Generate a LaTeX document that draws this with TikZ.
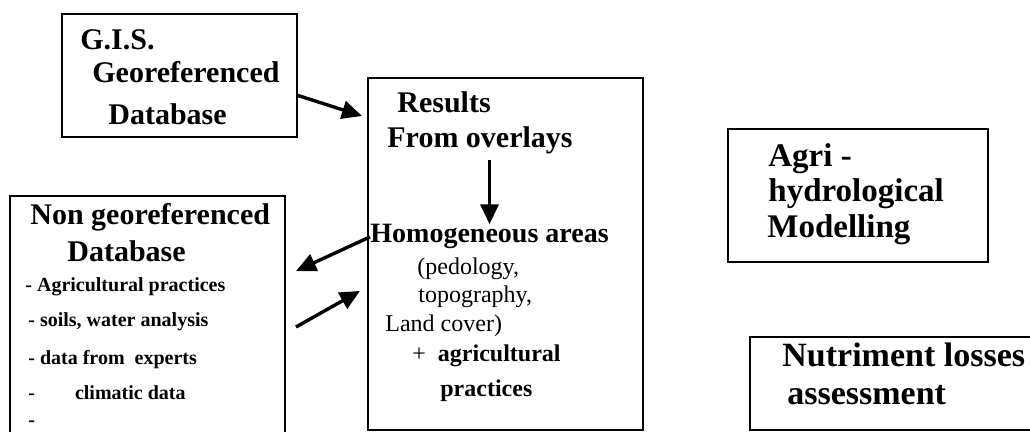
\documentclass[tikz,border=0pt]{standalone}
\usepackage{fontspec}
\setmainfont{Liberation Serif}
\usepackage{tikz}
\usetikzlibrary{arrows.meta}

\begin{document}
\begin{tikzpicture}[x=0.5pt,y=-0.5pt,inner sep=0pt,
  box/.style={draw=black,line width=1pt,rectangle},
  big/.style={font=\fontsize{#1}{#1}\selectfont\bfseries,anchor=base west},
  big/.default=15,
  item/.style={font=\fontsize{10}{12}\selectfont\bfseries,anchor=base west},
  plain/.style={font=\fontsize{12}{14}\selectfont,anchor=base west},
  flow/.style={-{Triangle[length=10pt,width=9pt]},line width=1.7pt}]
\useasboundingbox (0,0) rectangle (1030,432);

% boxes
\node[box,minimum width=117.5pt,minimum height=61.5pt] (gis) at (179.5,75.5) {};
\node[box,minimum width=137.5pt,minimum height=176pt] (res) at (505.5,254) {};
\node[box,minimum width=137.5pt,minimum height=132pt] (ngr) at (147.5,328) {};
\node[box,minimum width=130pt,minimum height=66.5pt] (agri) at (858,195.5) {};
\node[box,minimum width=145pt,minimum height=46.5pt] (nut) at (895,383.5) {};

% G.I.S.
\node[big] (gisA) at (80,50) {G.I.S.};
\node[big] (gisB) at (92,83) {Georeferenced};
\node[big] (gisC) at (108,125) {Database};

% results
\node[big] (resA) at (397,113) {Results};
\node[big] (ovl) at (387,148) {From overlays};
\node[big=14] (homog) at (370,243) {Homogeneous areas};
\node[plain] (ped) at (417,275) {(pedology,};
\node[plain] (topo) at (418,303) {topography,};
\node[plain] (land) at (385,332) {Land cover)};
\node[plain] (agr) at (412,362) {+\hspace{0.5em}\textbf{agricultural}};
\node[plain] (prac) at (440,397) {\textbf{practices}};

% non georeferenced
\node[big] (ngrA) at (30,225) {Non georeferenced};
\node[big] (ngrB) at (67,262) {Database};
\node[item] (it1) at (25,292) {- Agricultural practices};
\node[item] (it2) at (28,327) {- soils, water analysis};
\node[item] (it3) at (28,365) {- data from\ \ experts};
\node[item] (it4) at (28,400) {-\hspace{20pt}climatic data};
\node[item] (it5) at (28,427) {-};

% modelling
\node[big=16.5] (agA) at (768,167) {Agri -};
\node[big=16.5] (agB) at (768,202) {hydrological};
\node[big=16.5] (agC) at (767,238) {Modelling};

\node[big=17] (nutA) at (782,367) {Nutriment losses};
\node[big=17] (nutB) at (787,405) {assessment};

\path ([shift={(0,20)}]gis.east) edge[flow] ([shift={(-5,39)}]res.north west);
\path (homog.north |- ovl.south) edge[flow,shorten <=2.5pt] (homog.north);
\path (homog.west) edge[flow] ([shift={(10,76)}]ngr.north east);
\path ([shift={(10,132)}]ngr.north east) edge[flow] ([shift={(-10,54)}]homog.west);
\end{tikzpicture}
\end{document}
